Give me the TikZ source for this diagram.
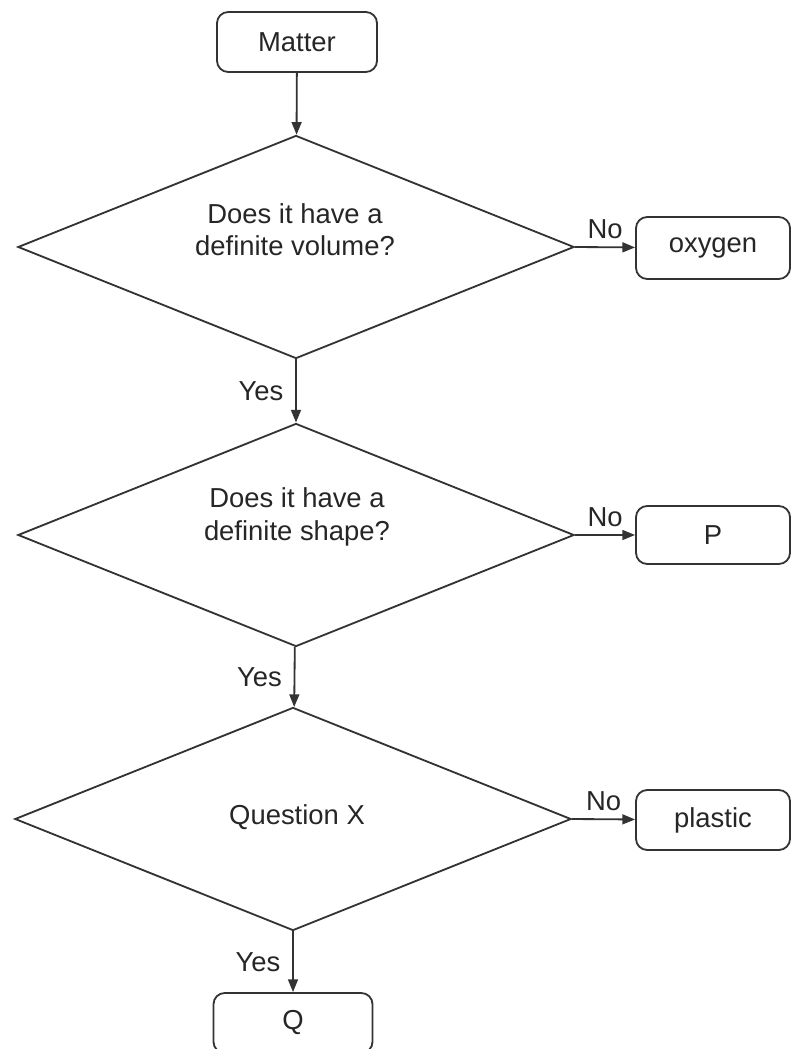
\documentclass[tikz,border=0pt]{standalone}
\usepackage{fontspec}
\setmainfont{Liberation Sans}
\usetikzlibrary{shapes.geometric,arrows.meta}

\begin{document}
\begin{tikzpicture}[x=0.025cm,y=-0.025cm,
	every node/.style={text=black!85,font=\fontsize{19.5}{23}\selectfont},
	box/.style={draw=black!80,line width=1.3pt,rounded corners=8pt,minimum height=1.5cm},
	question/.style={draw=black!80,line width=1.3pt,diamond,inner sep=0pt,minimum width=13.9cm,minimum height=5.575cm},
	qtext/.style={align=center},
	flow/.style={draw=black!80,line width=1.3pt,-{Triangle[length=9pt,width=7pt]}}]
	\useasboundingbox (0,0) rectangle (790,1049);
	% start
	\node[box,minimum width=4cm] (matter) at (297,42) {Matter};
	% the three questions
	\node[question] (vol) at (296,247) {};
	\node[qtext] (voltxt) at (295,230) {Does it have a\\definite volume?};
	\node[question] (shp) at (296,535) {};
	\node[qtext] (shptxt) at (297,517) {Does it have a\\definite shape?};
	\node[question] (qx) at (293,819) {};
	\node[qtext] (qxtxt) at (297,817) {Question X};
	% answers
	\node[box,minimum width=3.85cm,minimum height=1.55cm] (oxygen) at (713,248) {oxygen};
	\node[box,minimum width=3.85cm,minimum height=1.45cm] (p) at (713,535) {P};
	\node[box,minimum width=3.85cm] (plastic) at (713,820) {plastic};
	\node[box,minimum width=3.975cm] (q) at (293,1023) {Q};
	% arrows
	\draw[flow] (matter) -- (vol);
	\draw[flow] (vol.east) -- node[above,yshift=2pt] {No} (oxygen);
	\draw[flow] (vol) -- node[left,xshift=-5pt] {Yes} (shp);
	\draw[flow] (shp.east) -- node[above,yshift=2pt] {No} (p);
	\draw[flow] (shp) -- node[left,xshift=-5pt] {Yes} (qx);
	\draw[flow] (qx.east) -- node[above,yshift=2pt] {No} (plastic);
	\draw[flow] (qx) -- node[left,xshift=-5pt] {Yes} (q);
\end{tikzpicture}
\end{document}
